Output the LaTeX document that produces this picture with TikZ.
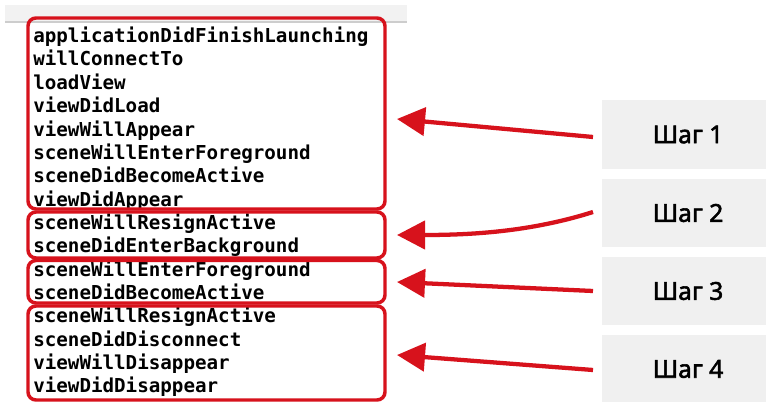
\documentclass[tikz,border=0pt]{standalone}
\usepackage{fontspec}
\setmainfont{Noto Sans}
\newfontfamily\stepfont{Noto Sans}[FakeBold=2.2]
\newfontfamily\codefont{DejaVu Sans Mono}
\usetikzlibrary{arrows.meta}
\definecolor{redline}{RGB}{215,18,28}
\definecolor{stepgray}{RGB}{240,240,240}
\definecolor{bandgray}{RGB}{242,242,242}
\definecolor{bandline}{RGB}{205,205,205}
\begin{document}
\begin{tikzpicture}[x=0.75pt,y=-0.75pt,
  codeline/.style={anchor=base west,inner sep=0pt,font=\codefont\bfseries\fontsize{14.4pt}{17pt}\selectfont},
  groupbox/.style={draw=redline,line width=2.6pt,rounded corners=6pt,fill=none},
  steplabel/.style={inner sep=0pt,font=\stepfont\fontsize{18.5pt}{22pt}\selectfont},
  steparrow/.style={draw=redline,line width=3.2pt,-{Triangle[length=21pt,width=21pt]}}]
\useasboundingbox (0,0) rectangle (766,402);
\fill[white] (0,0) rectangle (766,402);
% top band
\fill[bandgray] (5,5) rectangle (407,22);
\draw[bandline,line width=0.8pt] (5,22) -- (407,22);
% step boxes
\fill[stepgray] (602,100) rectangle (766,169);
\fill[stepgray] (602,179) rectangle (766,247);
\fill[stepgray] (602,257) rectangle (766,325);
\fill[stepgray] (602,335) rectangle (766,402);
\node[steplabel] (s1) at (688,134.5) {Шаг 1};
\node[steplabel] (s2) at (688,213) {Шаг 2};
\node[steplabel] (s3) at (688,291) {Шаг 3};
\node[steplabel] (s4) at (688,369) {Шаг 4};
% code lines
\node[codeline] (l1) at (33,42.7) {applicationDidFinishLaunching};
\node[codeline] (l2) at (33,66.0) {willConnectTo};
\node[codeline] (l3) at (33,89.4) {loadView};
\node[codeline] (l4) at (33,112.7) {viewDidLoad};
\node[codeline] (l5) at (33,136.1) {viewWillAppear};
\node[codeline] (l6) at (33,159.4) {sceneWillEnterForeground};
\node[codeline] (l7) at (33,182.8) {sceneDidBecomeActive};
\node[codeline] (l8) at (33,206.1) {viewDidAppear};
\node[codeline] (l9) at (33,229.5) {sceneWillResignActive};
\node[codeline] (l10) at (33,252.8) {sceneDidEnterBackground};
\node[codeline] (l11) at (33,276.2) {sceneWillEnterForeground};
\node[codeline] (l12) at (33,299.5) {sceneDidBecomeActive};
\node[codeline] (l13) at (33,322.9) {sceneWillResignActive};
\node[codeline] (l14) at (33,346.2) {sceneDidDisconnect};
\node[codeline] (l15) at (33,369.6) {viewWillDisappear};
\node[codeline] (l16) at (33,392.9) {viewDidDisappear};
% red group boxes
\draw[groupbox] (28,18) rectangle (385,209);
\draw[groupbox] (28,212) rectangle (385,258);
\draw[groupbox] (28,260.5) rectangle (385,303);
\draw[groupbox] (28,306) rectangle (385,400);
% arrow ends
\coordinate (a1) at (593,137);
\coordinate (t1) at (397,119);
\coordinate (a2) at (593,212);
\coordinate (t2) at (397,235);
\coordinate (a3) at (593,291);
\coordinate (t3) at (397,282);
\coordinate (a4) at (593,370);
\coordinate (t4) at (397,355);
\draw[steparrow] (a1) -- (t1);
\draw[steparrow] (a2) .. controls (530,232) and (470,235) .. (t2);
\draw[steparrow] (a3) -- (t3);
\draw[steparrow] (a4) -- (t4);
\end{tikzpicture}
\end{document}
